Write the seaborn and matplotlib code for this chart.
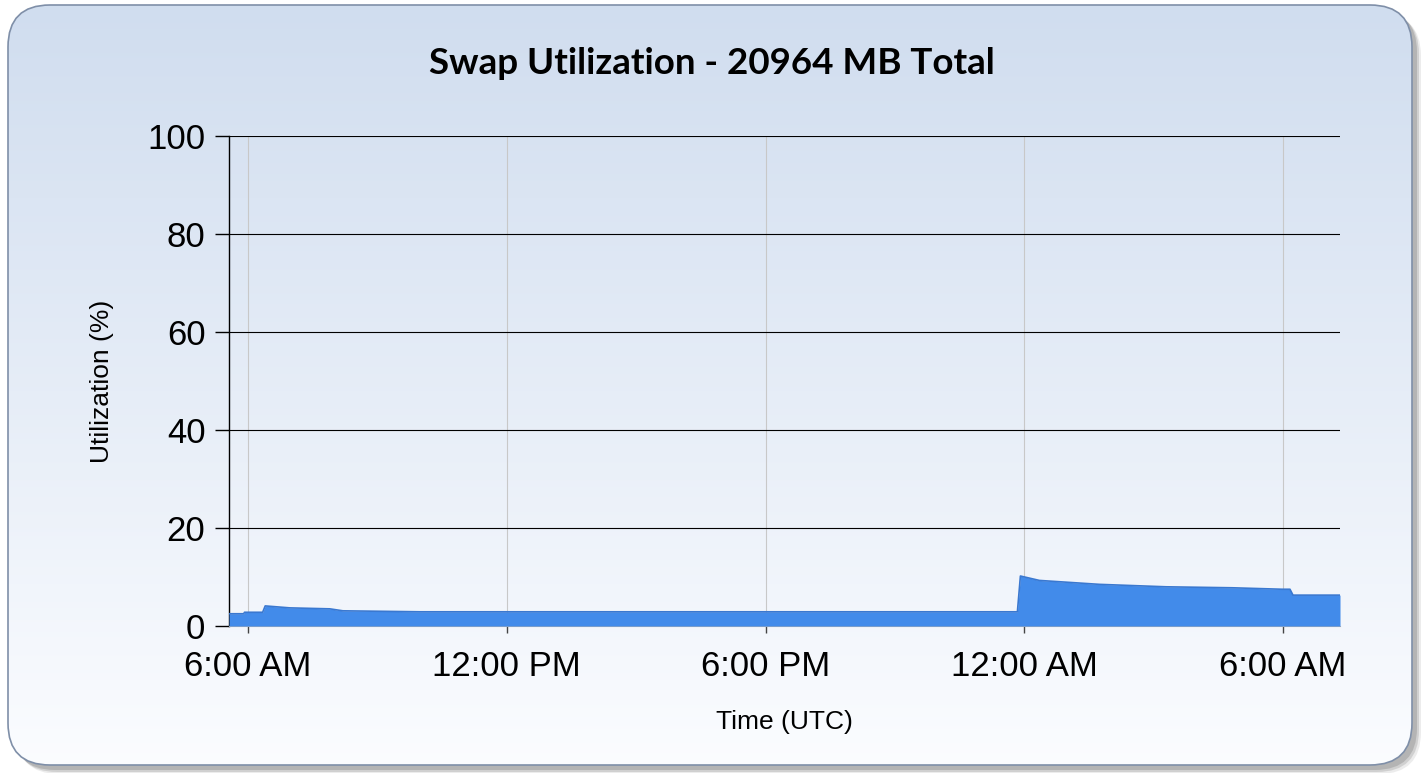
import numpy as np
import pandas as pd
import matplotlib
matplotlib.use("Agg")
import matplotlib.pyplot as plt
import matplotlib.dates as mdates
from matplotlib.patches import FancyBboxPatch
import seaborn as sns

# hours since midnight of day 1, swap utilization in %
hours = [5.56, 5.90, 5.92, 6.34, 6.40, 6.97, 7.90, 8.20, 9.98, 14.15,
         23.84, 23.91, 24.35, 25.74, 27.29, 28.82, 29.98, 30.16, 30.23, 31.32]
util = [2.5, 2.5, 2.8, 2.8, 4.1, 3.7, 3.5, 3.1, 2.9, 2.9,
        2.9, 10.2, 9.3, 8.5, 8.0, 7.8, 7.5, 7.5, 6.3, 6.3]
y_ticks = [0, 20, 40, 60, 80, 100]

start_day = pd.Timestamp("2024-01-01")
df = pd.DataFrame({
    "time": start_day + pd.to_timedelta(hours, unit="h"),
    "util": util,
})

sns.set_theme(style="white")
plt.rcParams["font.family"] = ["Liberation Sans", "DejaVu Sans"]
plt.rcParams["text.color"] = "black"
plt.rcParams["axes.labelcolor"] = "black"
plt.rcParams["xtick.color"] = "black"
plt.rcParams["ytick.color"] = "black"

fig = plt.figure(figsize=(14.24, 7.73), dpi=100)

# background panel with rounded corners, gradient and shadow
bg = fig.add_axes([0, 0, 1, 1])
bg.set_xlim(0, 1424)
bg.set_ylim(773, 0)
bg.axis("off")
for off, alpha in [(9, 0.15), (7, 0.25), (5, 0.35)]:
    shadow = FancyBboxPatch((8 + off, 5 + off), 1404, 760,
                            boxstyle="round,pad=0,rounding_size=42",
                            facecolor="#808080", edgecolor="none", alpha=alpha)
    bg.add_patch(shadow)
panel = FancyBboxPatch((8, 5), 1404, 760, boxstyle="round,pad=0,rounding_size=42",
                       facecolor="none", edgecolor="#7f8fa8", linewidth=1.2, zorder=3)
fill_patch = FancyBboxPatch((8, 5), 1404, 760, boxstyle="round,pad=0,rounding_size=42",
                            facecolor="white", edgecolor="none", zorder=1)
bg.add_patch(fill_patch)
grad = np.linspace(0, 1, 256).reshape(-1, 1)
top_c = np.array([0.816, 0.867, 0.937])
bot_c = np.array([0.985, 0.99, 1.0])
img = top_c + (bot_c - top_c) * grad[..., None]
im = bg.imshow(img, extent=(8, 1412, 765, 5), aspect="auto", zorder=2)
im.set_clip_path(fill_patch)
bg.add_patch(panel)

# main plot
ax = fig.add_axes([229 / 1424, 1 - 626 / 773, (1340 - 229) / 1424, (626 - 136) / 773])
ax.set_facecolor("none")
ax.fill_between(df["time"], df["util"], 0, color="#428bea", linewidth=0, zorder=3)
sns.lineplot(data=df, x="time", y="util", ax=ax, color="#3a78d0", linewidth=1.2, zorder=4)

ax.set_xlim(start_day + pd.Timedelta(hours=5.56), start_day + pd.Timedelta(hours=31.32))
ax.set_ylim(0, 100)
ax.set_yticks(y_ticks)
ax.xaxis.set_major_locator(mdates.HourLocator(byhour=[0, 6, 12, 18]))
ax.xaxis.set_major_formatter(
    matplotlib.ticker.FuncFormatter(
        lambda v, pos: mdates.num2date(v).strftime("%I:%M %p").lstrip("0")))

ax.grid(axis="y", color="black", linewidth=0.8, zorder=1)
ax.grid(axis="x", color="#c8c8c8", linewidth=0.8, zorder=1)
ax.set_axisbelow(True)

for side in ["top", "right"]:
    ax.spines[side].set_visible(False)
ax.spines["left"].set_color("black")
ax.spines["left"].set_linewidth(1.0)
ax.spines["bottom"].set_color("#b0b0b0")
ax.spines["bottom"].set_linewidth(0.8)

ax.tick_params(axis="y", length=10, width=1, color="black", pad=7, labelsize=25, left=True)
ax.tick_params(axis="x", length=5, width=1, color="#444444", pad=12, labelsize=25, bottom=True)

ax.set_xlabel("Time (UTC)", fontsize=19, labelpad=20)
ax.set_ylabel("Utilization (%)", fontsize=19, labelpad=24)

fig.text(0.5, 1 - 64 / 773, "Swap Utilization - 20964 MB Total", ha="center", va="center",
         fontsize=26.5, fontweight="bold", family=["Lato", "DejaVu Sans"])

fig.savefig("out.png", dpi=100)
